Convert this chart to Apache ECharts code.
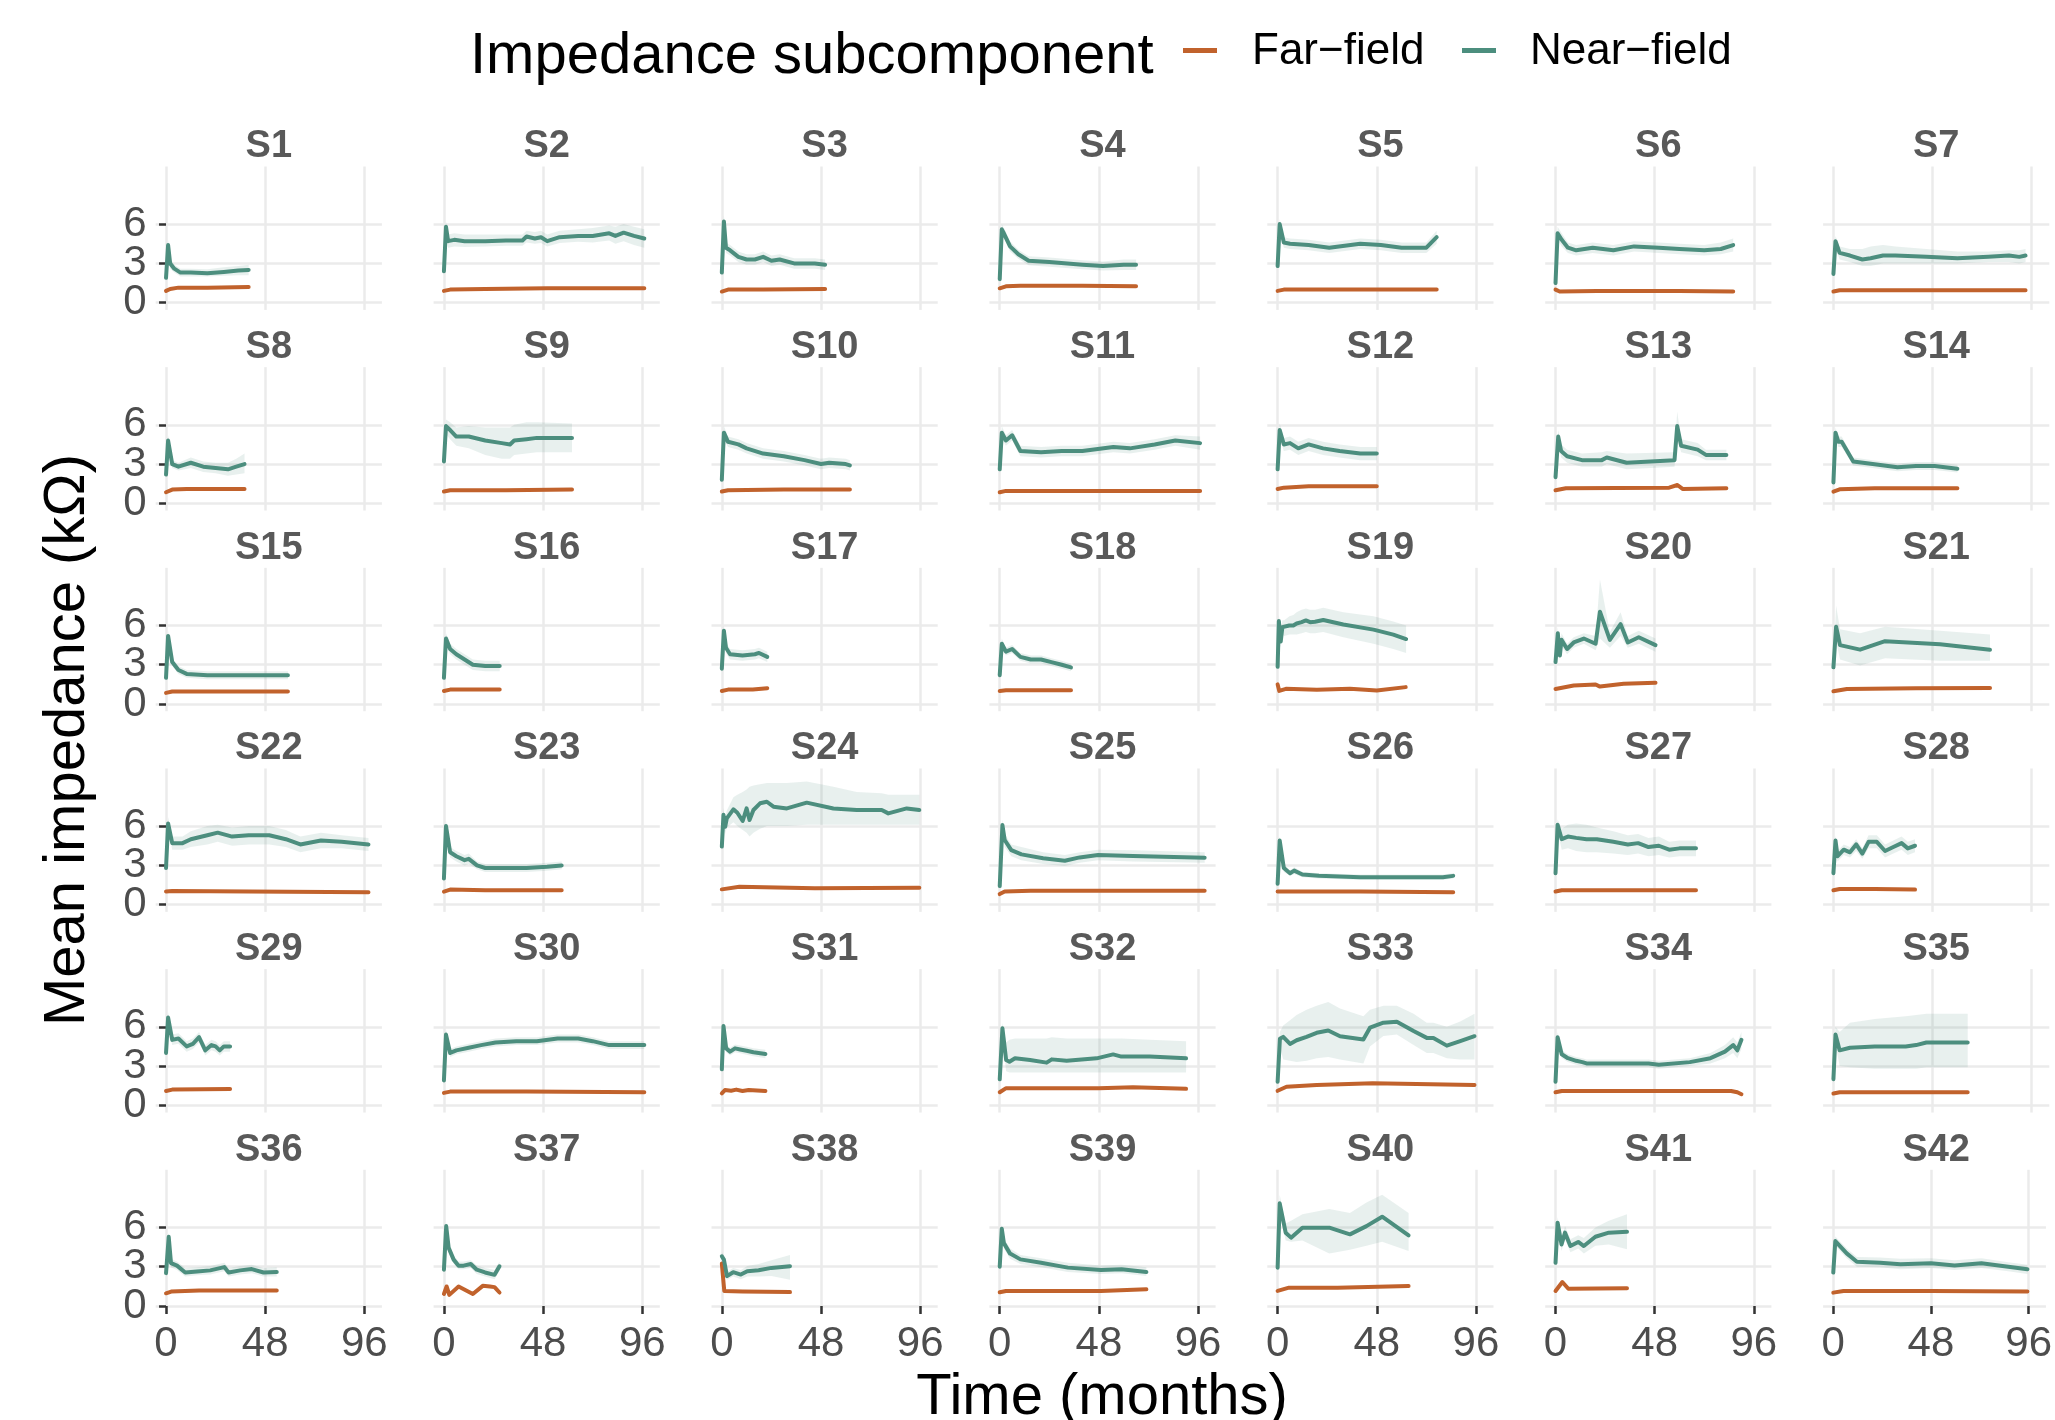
<!DOCTYPE html>
<html><head><meta charset="utf-8">
<script src="https://cdn.jsdelivr.net/npm/echarts@6.0.0/dist/echarts.min.js"></script>
<style>html,body{margin:0;padding:0;background:#fff}#chart{width:2055px;height:1420px}</style>
</head><body><div id="chart"></div>
<script>
const subjects = ['S1','S2','S3','S4','S5','S6','S7','S8','S9','S10','S11','S12','S13','S14','S15','S16','S17','S18','S19','S20','S21','S22','S23','S24','S25','S26','S27','S28','S29','S30','S31','S32','S33','S34','S35','S36','S37','S38','S39','S40','S41','S42'];
const xTicks = [0, 48, 96];
const yTicks = [0, 3, 6];
const yTicksOuter = [0, 6];
const yTicksInner = [3];

const nearTime = [
 [0,1,2,4,7,12,20,28,35,40],
 [0,1,2,5,10,20,30,38,40,44,47,50,56,65,72,80,83,87,92,97],
 [0,1,2,4,8,12,16,20,24,28,35,45,50],
 [0,1,2,5,9,14,24,40,50,60,66],
 [0,1,3,6,15,25,40,50,60,72,77],
 [0,1,3,6,10,18,28,38,50,60,72,80,86],
 [0,1,3,8,14,18,24,30,45,60,75,85,90,93],
 [0,1,3,6,12,18,24,30,34,38],
 [0,1,3,6,12,20,28,32,34,40,45,62],
 [0,1,3,8,12,20,30,40,48,52,60,62],
 [0,1,3,6,10,20,30,40,55,63,75,85,97],
 [0,1,3,6,10,15,22,30,40,48],
 [0,1.3,2.7,5.6,12.8,22.4,24.8,34.4,57.6,58.9,60.8,68.8,72.8,82.7],
 [0,1,2.4,4,9.6,19,31,40,49,60],
 [0,1,3,6,10,20,40,59],
 [0,1,3,6,10,14,20,27],
 [0,1,2,4,10,16,18,22],
 [0,1,3,6,10,15,20,25,30,34.5],
 [0,0.6,1.5,2.3,3.2,5.7,7.6,9.2,11.6,13.7,15.7,18.1,22.1,31.8,46.4,56,62.2],
 [0,1.1,2.1,2.9,5.6,8.8,13.7,19.4,21.5,26.3,31.5,35,40.3,48.4],
 [0,1.3,3.2,12.9,25,51.6,75.8],
 [0,1,3,8,12,20,25,32,40,50,58,65,75,85,98],
 [0,1,3,6,10,12,16,20,40,50,57],
 [0,0.8,1.6,2.4,5.6,7.5,10.1,12,13.4,15.3,18.5,21.8,25,31.5,41.1,54,65.3,77.4,80.6,89.5,95.6],
 [0,1.3,2.4,5.6,10.5,21,31.5,38.7,47.6,64.5,99.2],
 [0,1,3,6,8,12,20,40,60,80,85],
 [0,1,3,6,10,15,20,28,35,40,45,50,55,60,68],
 [0,1,2,5,8,11,14,17,21,25,29,33,36,39.5],
 [0,1,3,6,10,13,16,19,22,24,26,28,31],
 [0,1,3,6,12,18,25,35,45,55,65,72,80,97],
 [0,0.8,2.1,4,6.4,8.9,12,15.3,21.1],
 [0,1.3,3.1,4.7,7.4,14.7,22.7,25.2,32.4,46.9,54.9,58.9,72.6,90.2],
 [0,1.1,2.7,6,9.2,14,18.9,24.5,30.2,41.5,44.7,51.2,57.7,65.8,72.2,75.4,81.9,88.4,95.3],
 [0,1,3,6,10,13,15,30,45,50,65,75,82,86,88,90],
 [0,1,3,8,20,35,40,45,65],
 [0,1.3,2.4,5.3,9.3,15,21.4,28.2,30.3,35.9,41.5,47.2,53.6],
 [0,1.1,2.3,4.7,7.1,9.5,13,15.9,19.9,24.5,26.9],
 [0,1,2.5,5.5,9.2,12.3,17.8,24,33],
 [0,1,2,5,10,20,33,49,59,71],
 [0,1,3.9,6.5,12,25,35,43,50.6,63.4],
 [0,1,2.9,4.6,7.2,11,13.7,19.3,25.8,34.6],
 [0,1,6.6,11.6,23,33,48,59.6,72.8,86,95.4]
];
const nearValue = [
 [1.9,4.4,3.0,2.6,2.3,2.3,2.25,2.35,2.45,2.5],
 [2.4,5.8,4.7,4.8,4.7,4.7,4.75,4.75,5.05,4.9,5.0,4.7,5.0,5.1,5.1,5.3,5.1,5.35,5.1,4.9],
 [2.3,6.2,4.2,4.0,3.5,3.3,3.3,3.5,3.2,3.3,3.0,3.0,2.9],
 [1.8,5.6,5.3,4.3,3.7,3.2,3.1,2.9,2.8,2.9,2.9],
 [2.8,6.0,4.6,4.5,4.4,4.2,4.5,4.4,4.2,4.2,5.0],
 [1.5,5.3,4.8,4.2,4.0,4.2,4.0,4.3,4.2,4.1,4.0,4.1,4.4],
 [2.2,4.7,3.8,3.6,3.3,3.4,3.6,3.6,3.5,3.4,3.5,3.6,3.5,3.6],
 [2.2,4.8,3.0,2.8,3.1,2.8,2.7,2.6,2.8,3.0],
 [3.2,5.9,5.6,5.1,5.1,4.8,4.6,4.5,4.8,4.9,5.0,5.0],
 [1.8,5.4,4.7,4.5,4.2,3.8,3.6,3.3,3.0,3.1,3.0,2.9],
 [2.6,5.4,4.8,5.2,4.0,3.9,4.0,4.0,4.3,4.2,4.5,4.8,4.6],
 [2.6,5.6,4.5,4.6,4.2,4.5,4.2,4.0,3.8,3.8],
 [2.0,5.1,4.0,3.6,3.3,3.3,3.5,3.1,3.3,5.9,4.4,4.1,3.7,3.7],
 [1.6,5.4,4.7,4.7,3.2,3.0,2.75,2.85,2.85,2.65],
 [2.0,5.2,3.2,2.6,2.3,2.2,2.2,2.2],
 [2.0,5.0,4.2,3.8,3.4,3.0,2.9,2.9],
 [2.7,5.6,4.3,3.8,3.7,3.8,3.9,3.6],
 [2.2,4.6,4.0,4.2,3.6,3.4,3.4,3.2,3.0,2.8],
 [2.84,6.33,4.78,5.87,5.81,6.0,6.0,6.15,6.25,6.38,6.25,6.28,6.41,6.07,5.68,5.3,4.96],
 [3.2,5.4,3.7,4.9,4.2,4.7,5.0,4.6,7.05,4.9,6.1,4.7,5.1,4.5],
 [2.8,5.9,4.5,4.15,4.8,4.56,4.15],
 [2.8,6.2,4.7,4.7,5.0,5.3,5.5,5.2,5.3,5.3,5.0,4.6,4.9,4.8,4.6],
 [2.0,6.0,4.0,3.7,3.4,3.5,3.0,2.8,2.8,2.9,3.0],
 [4.44,6.86,5.95,6.59,7.28,7.02,6.39,7.35,6.46,7.23,7.74,7.86,7.48,7.35,7.79,7.35,7.23,7.23,6.97,7.35,7.23],
 [1.42,6.08,4.94,4.17,3.84,3.54,3.36,3.61,3.79,3.72,3.59],
 [1.6,4.9,2.8,2.4,2.6,2.3,2.2,2.1,2.1,2.1,2.2],
 [2.4,6.1,5.0,5.2,5.1,5.0,5.0,4.8,4.6,4.7,4.4,4.5,4.2,4.3,4.3],
 [2.4,4.9,3.7,4.2,4.0,4.6,3.9,4.8,4.8,4.1,4.4,4.7,4.3,4.5],
 [4.0,6.7,5.0,5.1,4.5,4.7,5.2,4.2,4.6,4.5,4.2,4.5,4.5],
 [1.9,5.4,4.0,4.2,4.4,4.6,4.8,4.9,4.9,5.1,5.1,4.9,4.6,4.6],
 [2.75,6.06,4.35,4.1,4.35,4.27,4.17,4.05,3.92],
 [1.99,5.88,3.46,3.33,3.59,3.46,3.26,3.51,3.41,3.59,3.89,3.72,3.72,3.59],
 [1.8,5.08,5.23,4.69,4.97,5.23,5.54,5.72,5.28,5.03,5.93,6.31,6.39,5.67,5.15,5.15,4.56,4.9,5.28],
 [1.8,5.2,3.9,3.6,3.4,3.3,3.2,3.2,3.2,3.1,3.3,3.6,4.1,4.6,4.2,5.0],
 [2.0,5.4,4.2,4.4,4.5,4.5,4.6,4.8,4.8],
 [2.51,5.28,3.28,3.08,2.56,2.64,2.72,2.97,2.56,2.72,2.82,2.56,2.59],
 [2.77,6.1,4.44,3.54,3.08,3.08,3.21,2.77,2.56,2.38,3.03],
 [3.8,3.54,2.28,2.58,2.4,2.66,2.73,2.91,3.04],
 [3.0,5.9,4.8,4.0,3.56,3.3,2.93,2.75,2.8,2.6],
 [2.93,7.84,5.6,5.22,5.98,5.98,5.47,6.1,6.82,5.39],
 [3.3,6.36,4.7,5.6,4.58,4.89,4.58,5.29,5.6,5.67],
 [2.55,4.96,4.02,3.38,3.31,3.18,3.26,3.1,3.26,3.0,2.8]
];
const nearLow = [
 [1.6,3.9,2.6,2.3,2.0,2.0,2.0,2.05,2.1,2.1],
 [2.1,5.2,4.2,4.3,4.25,4.3,4.35,4.35,4.6,4.5,4.55,4.3,4.55,4.65,4.6,4.75,4.5,4.7,4.4,4.2],
 [2.0,5.6,3.8,3.6,3.1,2.9,2.9,3.1,2.8,2.9,2.6,2.6,2.5],
 [1.5,5.1,4.9,3.9,3.35,2.85,2.75,2.55,2.45,2.5,2.5],
 [2.5,5.5,4.2,4.1,4.0,3.8,4.1,4.0,3.8,3.8,4.5],
 [1.2,4.8,4.3,3.8,3.6,3.8,3.6,3.9,3.8,3.7,3.6,3.7,3.9],
 [1.9,4.2,3.3,3.1,2.8,2.8,3.0,3.0,3.0,3.0,3.1,3.1,3.0,3.1],
 [1.9,4.3,2.7,2.5,2.7,2.4,2.3,2.1,2.2,2.3],
 [2.9,5.3,4.9,4.4,4.2,3.7,3.4,3.4,3.7,3.8,3.9,3.9],
 [1.5,4.9,4.3,4.1,3.8,3.4,3.2,2.9,2.6,2.7,2.6,2.5],
 [2.3,4.9,4.4,4.8,3.6,3.5,3.6,3.6,3.9,3.8,4.1,4.4,4.1],
 [2.3,5.0,4.0,4.1,3.7,4.0,3.7,3.5,3.3,3.3],
 [1.7,4.6,3.5,3.1,2.8,2.8,3.0,2.6,2.8,5.0,3.9,3.6,3.3,3.3],
 [1.3,4.9,4.3,4.3,2.9,2.7,2.45,2.55,2.55,2.35],
 [1.7,4.7,2.9,2.3,2.0,1.9,1.9,1.9],
 [1.7,4.5,3.8,3.4,3.0,2.6,2.5,2.5],
 [2.4,5.1,3.9,3.4,3.3,3.4,3.5,3.2],
 [1.9,4.2,3.7,3.9,3.3,3.1,3.1,2.9,2.7,2.5],
 [2.5,5.8,4.3,5.3,5.2,5.3,5.3,5.3,5.4,5.5,5.4,5.4,5.5,5.1,4.6,4.2,3.9],
 [2.9,4.9,3.3,4.4,3.8,4.3,4.6,4.1,5.0,4.3,5.2,4.3,4.6,4.0],
 [2.5,4.8,3.4,2.95,3.5,3.3,3.3],
 [2.5,5.7,4.2,4.2,4.4,4.6,4.8,4.5,4.6,4.6,4.4,4.0,4.3,4.3,4.1],
 [1.7,5.5,3.6,3.3,3.0,3.1,2.7,2.5,2.5,2.6,2.7],
 [4.1,6.3,5.4,5.9,6.3,6.0,5.7,5.5,5.2,5.5,5.8,6.0,6.0,6.0,6.1,6.1,6.1,6.1,6.1,6.1,6.1],
 [1.1,5.6,4.4,3.7,3.4,3.1,2.95,3.2,3.4,3.3,3.2],
 [1.4,4.5,2.5,2.2,2.35,2.1,2.0,1.9,1.9,1.9,2.0],
 [2.1,5.6,4.2,4.3,4.1,4.0,4.0,3.9,3.8,3.9,3.7,3.8,3.6,3.7,3.7],
 [2.1,4.5,3.3,3.8,3.6,4.1,3.5,4.3,4.3,3.6,3.9,4.2,3.8,4.0],
 [3.7,6.2,4.6,4.7,4.1,4.3,4.8,3.8,4.2,4.1,3.8,4.1,4.1],
 [1.6,5.0,3.7,3.9,4.1,4.3,4.5,4.6,4.6,4.8,4.8,4.6,4.3,4.3],
 [2.45,5.7,4.05,3.8,4.05,3.97,3.87,3.75,3.6],
 [1.7,5.2,2.6,2.5,2.5,2.5,2.5,2.5,2.5,2.5,2.5,2.5,2.5,2.5],
 [1.5,4.5,3.5,3.4,3.3,3.4,3.6,3.7,3.5,3.2,4.5,5.3,5.4,4.6,4.0,4.0,3.6,3.5,3.5],
 [1.5,4.8,3.6,3.3,3.1,3.0,2.9,2.9,2.9,2.8,3.0,3.2,3.6,4.0,3.6,4.3],
 [1.7,4.7,3.0,2.9,2.8,2.8,2.8,2.9,2.9],
 [2.2,4.9,2.95,2.75,2.25,2.35,2.4,2.65,2.25,2.4,2.5,2.25,2.25],
 [2.5,5.7,4.1,3.25,2.8,2.8,2.9,2.45,2.25,2.05,2.7],
 [3.5,3.2,2.0,2.25,2.05,2.25,2.25,2.3,2.0],
 [2.7,5.5,4.4,3.6,3.2,2.95,2.6,2.45,2.5,2.3],
 [2.6,7.0,5.0,4.9,5.0,4.0,4.3,4.6,4.9,4.2],
 [3.0,5.9,4.2,5.1,4.1,4.4,4.0,4.6,4.7,4.33],
 [2.25,4.6,3.65,3.0,2.95,2.8,2.9,2.75,2.9,2.65,2.45]
];
const nearHigh = [
 [2.2,4.8,3.4,2.9,2.6,2.6,2.55,2.7,2.8,2.9],
 [2.7,6.2,5.2,5.3,5.2,5.2,5.2,5.2,5.5,5.4,5.5,5.2,5.5,5.6,5.7,5.9,5.8,6.0,5.8,5.6],
 [2.6,6.7,4.6,4.4,3.9,3.7,3.7,3.9,3.6,3.7,3.4,3.4,3.3],
 [2.1,6.0,5.7,4.7,4.05,3.55,3.45,3.25,3.15,3.3,3.3],
 [3.1,6.4,5.0,4.9,4.8,4.6,4.9,4.8,4.6,4.6,5.5],
 [1.8,5.8,5.3,4.6,4.4,4.6,4.4,4.7,4.6,4.5,4.4,4.6,4.9],
 [2.5,5.1,4.3,4.1,4.1,4.3,4.4,4.3,4.1,3.9,3.9,4.0,4.0,4.1],
 [2.5,5.2,3.3,3.1,3.5,3.2,3.1,3.1,3.4,3.8],
 [3.5,6.4,6.2,5.8,5.9,5.8,5.8,5.8,6.0,6.2,6.2,6.1],
 [2.1,5.9,5.1,4.9,4.6,4.2,4.0,3.7,3.4,3.5,3.4,3.3],
 [2.9,5.9,5.2,5.6,4.4,4.3,4.4,4.4,4.7,4.6,4.9,5.2,5.1],
 [2.9,6.1,5.0,5.1,4.7,5.0,4.7,4.5,4.3,4.3],
 [2.3,5.6,4.5,4.1,3.8,3.9,4.0,3.8,3.9,7.0,4.9,4.6,4.1,4.1],
 [1.9,5.8,5.1,5.1,3.5,3.3,3.05,3.15,3.15,2.95],
 [2.3,5.6,3.5,2.9,2.6,2.5,2.5,2.5],
 [2.3,5.4,4.6,4.2,3.8,3.4,3.3,3.3],
 [3.0,6.0,4.7,4.2,4.1,4.2,4.3,4.0],
 [2.5,5.0,4.3,4.5,3.9,3.7,3.7,3.5,3.3,3.1],
 [3.2,6.8,5.3,6.4,6.4,6.7,6.8,7.0,7.2,7.3,7.2,7.2,7.35,7.0,6.7,6.3,6.0],
 [3.5,5.9,4.1,5.4,4.6,5.1,5.4,5.2,9.5,5.5,7.0,5.2,5.6,5.0],
 [3.1,7.5,5.7,5.4,5.9,5.6,5.3],
 [3.1,6.7,5.2,5.2,5.6,6.0,6.1,5.9,6.0,6.0,5.7,5.2,5.5,5.3,5.1],
 [2.3,6.4,4.4,4.1,3.8,3.9,3.3,3.1,3.1,3.2,3.3],
 [4.8,7.4,6.5,7.2,8.2,8.4,8.6,8.8,9.0,9.1,9.2,9.3,9.3,9.3,9.4,9.0,8.6,8.5,8.4,8.4,8.4],
 [1.7,6.5,5.4,4.6,4.4,4.0,3.8,4.0,4.2,4.15,4.0],
 [1.8,5.2,3.1,2.6,2.85,2.5,2.4,2.3,2.3,2.3,2.4],
 [2.7,6.5,5.8,6.1,6.2,6.1,5.9,5.6,5.3,5.4,5.1,5.2,4.8,4.9,4.9],
 [2.7,5.3,4.1,4.6,4.4,5.0,4.3,5.3,5.3,4.6,4.9,5.2,4.8,5.0],
 [4.3,7.1,5.4,5.5,4.9,5.1,5.6,4.6,5.0,4.9,4.6,4.9,4.9],
 [2.2,5.8,4.3,4.5,4.7,4.9,5.1,5.2,5.2,5.4,5.4,5.2,4.9,4.9],
 [3.05,6.4,4.65,4.4,4.65,4.57,4.47,4.35,4.25],
 [2.3,6.3,4.8,5.0,5.1,5.1,5.1,5.2,5.1,5.1,5.1,5.1,5.0,4.9],
 [2.1,5.6,6.1,6.5,6.9,7.3,7.6,7.9,7.4,6.8,7.3,7.6,7.6,7.0,6.3,6.3,6.0,6.4,7.0],
 [2.1,5.6,4.2,3.9,3.7,3.6,3.5,3.5,3.5,3.4,3.6,4.0,4.6,5.2,4.8,5.6],
 [2.3,6.0,5.6,6.3,6.6,6.8,6.9,7.0,7.0],
 [2.8,5.6,3.6,3.4,2.9,2.95,3.05,3.3,2.9,3.05,3.15,2.9,2.95],
 [3.05,6.4,4.8,3.85,3.4,3.4,3.5,3.1,2.9,2.75,3.4],
 [4.1,3.9,2.6,2.9,2.75,3.05,3.2,3.5,3.9],
 [3.3,6.3,5.2,4.4,3.9,3.65,3.3,3.1,3.15,2.95],
 [3.3,8.5,6.3,6.5,7.0,7.4,7.1,7.9,8.5,7.1],
 [3.6,6.8,5.2,6.1,5.1,5.4,5.2,6.0,6.5,7.0],
 [2.85,5.3,4.4,3.75,3.7,3.6,3.65,3.5,3.65,3.35,3.15]
];
const farTime = [
 [0,2,6,20,40],[0,3,20,50,97],[0,3,20,50],[0,3,10,40,66],[0,3,40,77],[0,2,20,60,86],[0,3,40,93],
 [0,3,10,38],[0,3,30,62],[0,3,30,62],[0,3,50,97],[0,3,15,48],[0,5,55,59,61.5,82.7],[0,3,20,60],
 [0,3,30,59],[0,3,27],[0,3,15,22],[0,3,34.5],[0,0.8,4,19,35,48,62],[0,8.8,19.4,21.5,33,48.4],[0,6.5,40,75.8],
 [0,3,40,98],[0,3,20,57],[0,8.5,45,95.6],[0,2.4,15,99.2],[0,3,40,85],[0,3,30,68],[0,3,20,39.5],
 [0,3,31],[0,3,40,97],[0,1.5,4.5,7,10,13,21.1],[0,3.1,48,64.5,90.2],[0,4.3,18.9,46,95.3],[0,3,40,85,88,90],[0,3,30,65],
 [0,2.5,16,53.6],[0,1.3,2.6,7.1,14,18.8,22.3,24.5,26.9],[0,1.2,10,33],[0,3,49,71],[0,5.5,29,63.4],[0,3.3,6.2,34.6],[0,5,48,95.4]
];
const farValue = [
 [0.9,1.05,1.15,1.15,1.2],[0.9,1.0,1.05,1.1,1.1],[0.85,1.0,1.0,1.05],[1.1,1.25,1.3,1.3,1.25],[0.9,1.0,1.0,1.0],[1.0,0.85,0.9,0.9,0.85],[0.85,0.95,0.95,0.95],
 [0.85,1.05,1.1,1.1],[0.9,1.0,1.0,1.05],[0.9,1.0,1.05,1.05],[0.85,0.95,0.95,0.95],[1.1,1.2,1.3,1.3],[1.0,1.15,1.2,1.4,1.1,1.15],[0.9,1.07,1.15,1.15],
 [0.85,0.95,0.95,0.95],[1.0,1.1,1.1],[1.0,1.1,1.1,1.2],[1.0,1.05,1.05],[1.5,1.0,1.16,1.08,1.16,1.03,1.29],[1.15,1.41,1.49,1.33,1.54,1.62],[0.97,1.15,1.2,1.23],
 [1.0,1.05,1.0,0.95],[1.0,1.15,1.1,1.1],[1.17,1.37,1.25,1.3],[0.81,1.0,1.07,1.07],[1.0,1.0,1.0,0.95],[1.0,1.1,1.1,1.1],[1.1,1.2,1.2,1.15],
 [1.1,1.2,1.25],[0.95,1.05,1.05,1.0],[0.92,1.17,1.12,1.2,1.1,1.17,1.1],[1.0,1.31,1.31,1.39,1.26],[1.11,1.42,1.55,1.68,1.55],[1.0,1.1,1.1,1.1,1.0,0.85],[0.9,1.0,1.0,1.0],
 [0.97,1.1,1.18,1.18],[0.92,1.49,0.85,1.49,0.92,1.54,1.49,1.44,1.03],[3.24,1.14,1.1,1.06],[1.05,1.15,1.15,1.27],[1.15,1.4,1.4,1.53],[1.15,1.83,1.32,1.35],[1.02,1.15,1.15,1.1]
];

const NEAR = '#4c8e7e', FAR = '#c1622c', BAND = 'rgba(76,142,126,0.13)';
const FONT = '"Liberation Sans", Arial, Helvetica, sans-serif';
const GRID = {left0: 155.7, dx: 277.9, top0: 166.5, dy: 200.66, w: 226.2, h: 143.4};
const Y_MIN = -0.55, Y_MAX = 10.4;
const yLabelStyle = {hideOverlap: false, showMinLabel: true, showMaxLabel: true, margin: 9, fontSize: 42, color: '#4d4d4d', fontFamily: FONT};

const grids = [], xAxes = [], yAxes = [], series = [], graphics = [];
subjects.forEach((name, i) => {
  const c = i % 7, r = Math.floor(i / 7);
  const left = GRID.left0 + c * GRID.dx, top = GRID.top0 + r * GRID.dy;
  grids.push({left: left, top: top, width: GRID.w, height: GRID.h, containLabel: false});
  const bottomRow = r === 5, leftCol = c === 0;
  xAxes.push({
    type: 'value', gridIndex: i, min: -5, max: 104.5,
    axisLine: {show: false},
    axisTick: {show: bottomRow, customValues: xTicks, length: 8, lineStyle: {color: '#333', width: 2.5}},
    axisLabel: {show: bottomRow, customValues: xTicks, hideOverlap: false, margin: 10, fontSize: 42, lineHeight: 42, color: '#4d4d4d', fontFamily: FONT},
    splitLine: {show: true, lineStyle: {color: '#ebebeb', width: 2.5}}
  });
  const yIdx = yAxes.length;
  yAxes.push({
    type: 'value', gridIndex: i, min: Y_MIN, max: Y_MAX, position: 'left',
    axisLine: {show: false},
    axisTick: {show: leftCol, customValues: yTicks, length: 7, lineStyle: {color: '#333', width: 2.5}},
    axisLabel: Object.assign({show: leftCol, customValues: yTicksOuter}, yLabelStyle),
    splitLine: {show: true, lineStyle: {color: '#ebebeb', width: 2.5}}
  });
  if (leftCol) {
    // second axis on the same scale carrying the middle tick label
    yAxes.push({
      type: 'value', gridIndex: i, min: Y_MIN, max: Y_MAX, position: 'left', offset: 0,
      axisLine: {show: false},
      axisTick: {show: false, customValues: yTicksInner},
      axisLabel: Object.assign({show: true, customValues: yTicksInner}, yLabelStyle),
      splitLine: {show: false}
    });
  }
  const ti = i;
  series.push({
    type: 'custom', xAxisIndex: i, yAxisIndex: yIdx, silent: true, z: 1,
    data: nearTime[i].map((t, k) => [t, nearLow[i][k], nearHigh[i][k]]),
    encode: {x: 0, y: [1, 2]},
    renderItem: function (params, api) {
      if (params.dataIndex !== 0) return null;
      const pts = [];
      const T = nearTime[ti];
      for (let k = 0; k < T.length; k++) pts.push(api.coord([T[k], nearHigh[ti][k]]));
      for (let k = T.length - 1; k >= 0; k--) pts.push(api.coord([T[k], nearLow[ti][k]]));
      return {type: 'polygon', shape: {points: pts}, style: {fill: BAND}};
    }
  });
  series.push({
    type: 'line', name: 'Far\u2212field', xAxisIndex: i, yAxisIndex: yIdx, z: 3, silent: true,
    data: farTime[i].map((t, k) => [t, farValue[i][k]]),
    symbol: 'none', lineStyle: {color: FAR, width: 4, join: 'round', cap: 'round'}, itemStyle: {color: FAR}
  });
  series.push({
    type: 'line', name: 'Near\u2212field', xAxisIndex: i, yAxisIndex: yIdx, z: 4, silent: true,
    data: nearTime[i].map((t, k) => [t, nearValue[i][k]]),
    symbol: 'none', lineStyle: {color: NEAR, width: 4, join: 'round', cap: 'round'}, itemStyle: {color: NEAR}
  });
  graphics.push({
    type: 'text', x: left + GRID.w / 2, y: top - 19.5, silent: true,
    style: {text: name, fontSize: 38, fontWeight: 'bold', fill: '#595959', fontFamily: FONT, align: 'center', verticalAlign: 'middle'}
  });
});

graphics.push(
  {type: 'text', x: 470, y: 56.5, silent: true, style: {text: 'Impedance subcomponent', fontSize: 58, fill: '#000', fontFamily: FONT, align: 'left', verticalAlign: 'middle'}},
  {type: 'rect', shape: {x: 1183, y: 48, width: 34, height: 5}, style: {fill: FAR}, silent: true},
  {type: 'text', x: 1252, y: 51.5, silent: true, style: {text: 'Far\u2212field', fontSize: 44, fill: '#000', fontFamily: FONT, align: 'left', verticalAlign: 'middle'}},
  {type: 'rect', shape: {x: 1462, y: 48, width: 34, height: 5}, style: {fill: NEAR}, silent: true},
  {type: 'text', x: 1530, y: 51.5, silent: true, style: {text: 'Near\u2212field', fontSize: 44, fill: '#000', fontFamily: FONT, align: 'left', verticalAlign: 'middle'}},
  {type: 'text', x: 68, y: 740, rotation: Math.PI / 2, silent: true, style: {text: 'Mean impedance (k\u03A9)', fontSize: 58, fill: '#000', fontFamily: FONT, align: 'center', verticalAlign: 'middle'}},
  {type: 'text', x: 1102, y: 1398, silent: true, style: {text: 'Time (months)', fontSize: 58, fill: '#000', fontFamily: FONT, align: 'center', verticalAlign: 'middle'}}
);

const chart = echarts.init(document.getElementById('chart'), null, {renderer: 'canvas'});
chart.setOption({
  animation: false,
  backgroundColor: '#ffffff',
  grid: grids, xAxis: xAxes, yAxis: yAxes, series: series,
  graphic: graphics
});
</script>
</body></html>
